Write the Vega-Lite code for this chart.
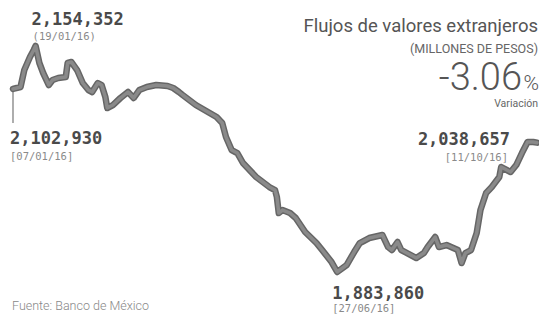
{
  "$schema": "https://vega.github.io/schema/vega-lite/v6.json",
  "autosize": {"type": "none"},
  "padding": {"left": 13, "top": 46, "right": 2, "bottom": 46},
  "width": 524,
  "height": 226,
  "background": "white",
  "config": {"view": {"stroke": null}},
  "datasets": {
    "flujos": [
      {"date": "2016-01-07", "value": 2102930},
      {"date": "2016-01-11", "value": 2105275},
      {"date": "2016-01-13", "value": 2125624},
      {"date": "2016-01-16", "value": 2141185},
      {"date": "2016-01-18", "value": 2149564},
      {"date": "2016-01-19", "value": 2154352},
      {"date": "2016-01-21", "value": 2134003},
      {"date": "2016-01-23", "value": 2122033},
      {"date": "2016-01-26", "value": 2107669},
      {"date": "2016-01-28", "value": 2113654},
      {"date": "2016-01-31", "value": 2116048},
      {"date": "2016-02-04", "value": 2117245},
      {"date": "2016-02-05", "value": 2134003},
      {"date": "2016-02-07", "value": 2135200},
      {"date": "2016-02-10", "value": 2125624},
      {"date": "2016-02-13", "value": 2110063},
      {"date": "2016-02-16", "value": 2101684},
      {"date": "2016-02-18", "value": 2099290},
      {"date": "2016-02-21", "value": 2110063},
      {"date": "2016-02-23", "value": 2107669},
      {"date": "2016-02-25", "value": 2093305},
      {"date": "2016-02-26", "value": 2080138},
      {"date": "2016-02-29", "value": 2083729},
      {"date": "2016-03-04", "value": 2092108},
      {"date": "2016-03-08", "value": 2099290},
      {"date": "2016-03-11", "value": 2092108},
      {"date": "2016-03-14", "value": 2101684},
      {"date": "2016-03-18", "value": 2105275},
      {"date": "2016-03-23", "value": 2107669},
      {"date": "2016-03-29", "value": 2106472},
      {"date": "2016-04-01", "value": 2104078},
      {"date": "2016-04-04", "value": 2099290},
      {"date": "2016-04-06", "value": 2095699},
      {"date": "2016-04-13", "value": 2083729},
      {"date": "2016-04-24", "value": 2069365},
      {"date": "2016-04-27", "value": 2062183},
      {"date": "2016-04-29", "value": 2045425},
      {"date": "2016-05-02", "value": 2029864},
      {"date": "2016-05-05", "value": 2026273},
      {"date": "2016-05-08", "value": 2014303},
      {"date": "2016-05-15", "value": 1997545},
      {"date": "2016-05-22", "value": 1985575},
      {"date": "2016-05-25", "value": 1981984},
      {"date": "2016-05-26", "value": 1973605},
      {"date": "2016-05-27", "value": 1954453},
      {"date": "2016-05-29", "value": 1958044},
      {"date": "2016-06-02", "value": 1954453},
      {"date": "2016-06-05", "value": 1948468},
      {"date": "2016-06-10", "value": 1931710},
      {"date": "2016-06-16", "value": 1918543},
      {"date": "2016-06-19", "value": 1910164},
      {"date": "2016-06-24", "value": 1895800},
      {"date": "2016-06-27", "value": 1883860},
      {"date": "2016-07-02", "value": 1892209},
      {"date": "2016-07-06", "value": 1907770},
      {"date": "2016-07-09", "value": 1918543},
      {"date": "2016-07-14", "value": 1924528},
      {"date": "2016-07-21", "value": 1928119},
      {"date": "2016-07-24", "value": 1913755},
      {"date": "2016-07-26", "value": 1910164},
      {"date": "2016-07-29", "value": 1919740},
      {"date": "2016-07-31", "value": 1910164},
      {"date": "2016-08-08", "value": 1900588},
      {"date": "2016-08-12", "value": 1906573},
      {"date": "2016-08-14", "value": 1913755},
      {"date": "2016-08-18", "value": 1925725},
      {"date": "2016-08-20", "value": 1913755},
      {"date": "2016-08-24", "value": 1916149},
      {"date": "2016-08-30", "value": 1910164},
      {"date": "2016-09-01", "value": 1894603},
      {"date": "2016-09-03", "value": 1906573},
      {"date": "2016-09-06", "value": 1910164},
      {"date": "2016-09-09", "value": 1930513},
      {"date": "2016-09-11", "value": 1958044},
      {"date": "2016-09-14", "value": 1978393},
      {"date": "2016-09-17", "value": 1985575},
      {"date": "2016-09-21", "value": 1997545},
      {"date": "2016-09-22", "value": 2009515},
      {"date": "2016-09-27", "value": 2003530},
      {"date": "2016-09-30", "value": 2011909},
      {"date": "2016-10-03", "value": 2026273},
      {"date": "2016-10-06", "value": 2039440},
      {"date": "2016-10-09", "value": 2039440},
      {"date": "2016-10-11", "value": 2038657}
    ]
  },
  "encoding": {
    "x": {"field": "date", "type": "temporal", "axis": null,
          "scale": {"type": "utc", "domain": ["2016-01-07", "2016-10-11"], "nice": false}},
    "y": {"field": "value", "type": "quantitative", "axis": null,
          "scale": {"domain": [1883860, 2154352], "zero": false, "nice": false}}
  },
  "layer": [
    {
      "data": {"values": [{"date": "2016-01-07", "value": 2102930, "end": 2062183}]},
      "mark": {"type": "rule", "color": "#777777", "strokeWidth": 1.2},
      "encoding": {"y2": {"field": "end"}}
    },
    {
      "data": {"name": "flujos"},
      "mark": {"type": "line", "color": "#666666", "strokeWidth": 6.5, "strokeJoin": "round", "strokeCap": "round"}
    },
    {
      "data": {"name": "flujos"},
      "mark": {"type": "line", "color": "#8a8a8a", "strokeWidth": 3.5, "strokeJoin": "round", "strokeCap": "round"}
    },
    {
      "data": {"values": [
        {"date": "2016-01-19", "value": 2154352, "big": "2,154,352", "small": "(19/01/16)"}
      ]},
      "layer": [
        {"mark": {"type": "text", "font": "DejaVu Sans Mono", "fontWeight": "bold", "fontSize": 17, "color": "#4a4a4a", "align": "left", "baseline": "alphabetic", "dx": -4, "dy": -21},
         "encoding": {"text": {"field": "big"}}},
        {"mark": {"type": "text", "font": "DejaVu Sans Mono", "fontSize": 10.5, "color": "#8a8a8a", "align": "left", "baseline": "alphabetic", "dx": -3, "dy": -6},
         "encoding": {"text": {"field": "small"}}}
      ]
    },
    {
      "data": {"values": [
        {"date": "2016-01-07", "value": 2102930, "big": "2,102,930", "small": "[07/01/16]"}
      ]},
      "layer": [
        {"mark": {"type": "text", "font": "DejaVu Sans Mono", "fontWeight": "bold", "fontSize": 17, "color": "#4a4a4a", "align": "left", "baseline": "alphabetic", "dx": -3, "dy": 55},
         "encoding": {"text": {"field": "big"}}},
        {"mark": {"type": "text", "font": "DejaVu Sans Mono", "fontSize": 10.5, "color": "#8a8a8a", "align": "left", "baseline": "alphabetic", "dx": -3, "dy": 71},
         "encoding": {"text": {"field": "small"}}}
      ]
    },
    {
      "data": {"values": [
        {"date": "2016-06-27", "value": 1883860, "big": "1,883,860", "small": "[27/06/16]"}
      ]},
      "layer": [
        {"mark": {"type": "text", "font": "DejaVu Sans Mono", "fontWeight": "bold", "fontSize": 17, "color": "#4a4a4a", "align": "left", "baseline": "alphabetic", "dx": -5, "dy": 27},
         "encoding": {"text": {"field": "big"}}},
        {"mark": {"type": "text", "font": "DejaVu Sans Mono", "fontSize": 10.5, "color": "#8a8a8a", "align": "left", "baseline": "alphabetic", "dx": -5, "dy": 40},
         "encoding": {"text": {"field": "small"}}}
      ]
    },
    {
      "data": {"values": [
        {"date": "2016-10-11", "value": 2038657, "big": "2,038,657", "small": "[11/10/16]"}
      ]},
      "layer": [
        {"mark": {"type": "text", "font": "DejaVu Sans Mono", "fontWeight": "bold", "fontSize": 17, "color": "#4a4a4a", "align": "right", "baseline": "alphabetic", "dx": -27, "dy": 2},
         "encoding": {"text": {"field": "big"}}},
        {"mark": {"type": "text", "font": "DejaVu Sans Mono", "fontSize": 10.5, "color": "#8a8a8a", "align": "right", "baseline": "alphabetic", "dx": -29, "dy": 18},
         "encoding": {"text": {"field": "small"}}}
      ]
    },
    {
      "data": {"values": [
        {"date": "2016-10-11", "value": 2154352, "title": "Flujos de valores extranjeros", "unit": "(MILLONES DE PESOS)", "pct": "-3.06", "sign": "%", "cap": "Variación"}
      ]},
      "layer": [
        {"mark": {"type": "text", "font": "Roboto", "fontSize": 18.5, "color": "#555555", "align": "right", "baseline": "alphabetic", "dx": 1, "dy": -14},
         "encoding": {"text": {"field": "title"}}},
        {"mark": {"type": "text", "font": "Roboto", "fontSize": 12.5, "color": "#666666", "align": "right", "baseline": "alphabetic", "dx": 1, "dy": 7},
         "encoding": {"text": {"field": "unit"}}},
        {"mark": {"type": "text", "font": "Roboto", "fontWeight": 300, "fontSize": 38, "color": "#555555", "align": "right", "baseline": "alphabetic", "dx": -15, "dy": 44},
         "encoding": {"text": {"field": "pct"}}},
        {"mark": {"type": "text", "font": "Roboto", "fontWeight": 300, "fontSize": 21, "color": "#555555", "align": "right", "baseline": "alphabetic", "dx": 2, "dy": 44},
         "encoding": {"text": {"field": "sign"}}},
        {"mark": {"type": "text", "font": "Roboto", "fontSize": 10.5, "color": "#666666", "align": "right", "baseline": "alphabetic", "dx": 1, "dy": 61},
         "encoding": {"text": {"field": "cap"}}}
      ]
    },
    {
      "data": {"values": [
        {"date": "2016-01-07", "value": 1883860, "src": "Fuente: Banco de México"}
      ]},
      "mark": {"type": "text", "font": "Roboto", "fontWeight": 300, "fontSize": 12.5, "color": "#888888", "align": "left", "baseline": "alphabetic", "dx": -1, "dy": 38},
      "encoding": {"text": {"field": "src"}}
    }
  ]
}
